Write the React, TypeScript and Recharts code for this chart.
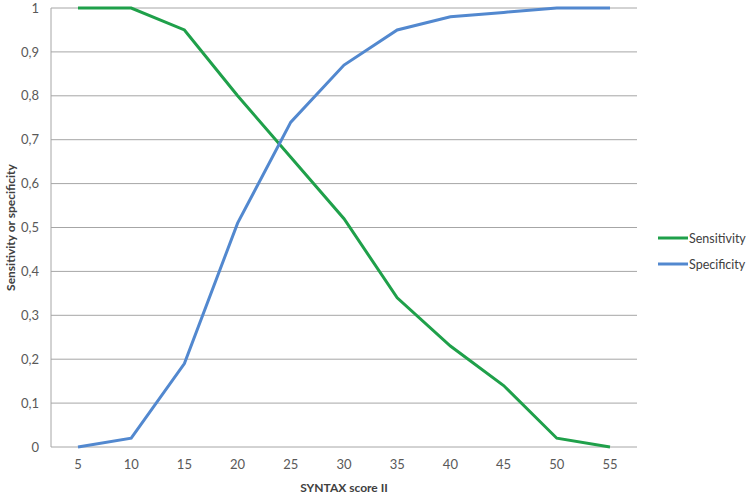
import { LineChart, Line, XAxis, YAxis, CartesianGrid, Legend } from "recharts";

const scores = [5, 10, 15, 20, 25, 30, 35, 40, 45, 50, 55];
const sensitivity = [1, 1, 0.95, 0.8, 0.66, 0.52, 0.34, 0.23, 0.14, 0.02, 0];
const specificity = [0, 0.02, 0.19, 0.51, 0.74, 0.87, 0.95, 0.98, 0.99, 1, 1];
const yTicks = [0, 0.1, 0.2, 0.3, 0.4, 0.5, 0.6, 0.7, 0.8, 0.9, 1];

const data = scores.map((s, i) => ({
  score: s,
  Sensitivity: sensitivity[i],
  Specificity: specificity[i],
}));

const FONT = "Lato, 'Open Sans', sans-serif";
const GREEN = "#1fa04a";
const BLUE = "#5288cf";

const fmt = (v: number) => String(Math.round(v * 10) / 10).replace(".", ",");

function YTitle(props: any) {
  const vb = props.viewBox || {};
  const cx = 10;
  const cy = vb.y + vb.height / 2;
  return (
    <text
      x={cx}
      y={cy}
      transform={`rotate(-90 ${cx} ${cy})`}
      textAnchor="middle"
      dominantBaseline="central"
      fontFamily={FONT}
      fontWeight="bold"
      fontSize={12}
      fill="#404040"
    >
      Sensitivity or specificity
    </text>
  );
}

function LegendBox(props: any) {
  const items = props.payload || [];
  return (
    <div style={{ fontFamily: FONT, fontSize: 12.5, color: "#404040" }}>
      {items.map((it: any) => (
        <div
          key={it.value}
          style={{ display: "flex", alignItems: "center", height: 26 }}
        >
          <svg width={30} height={6} style={{ marginRight: 1 }}>
            <line x1={0} y1={3} x2={30} y2={3} stroke={it.color} strokeWidth={3} />
          </svg>
          <span>{it.value}</span>
        </div>
      ))}
    </div>
  );
}

export default function App() {
  return (
    <div style={{ position: "absolute", left: 0, top: 0, background: "#fff" }}>
      <LineChart
        width={750}
        height={494}
        data={data}
        margin={{ top: 8, right: 113, bottom: 0, left: 0 }}
      >
        <CartesianGrid vertical={false} stroke="#a6a6a6" strokeWidth={1} />
        <XAxis
          dataKey="score"
          type="category"
          padding={{ left: 27, right: 27 }}
          axisLine={false}
          tickLine={false}
          tickSize={0}
          tickMargin={13}
          height={47}
          interval={0}
          tick={{ fontFamily: FONT, fontSize: 13, fill: "#595959" }}
          label={{
            value: "SYNTAX score II",
            position: "insideBottom",
            offset: 2,
            fontFamily: FONT,
            fontWeight: "bold",
            fontSize: 12,
            fill: "#404040",
          }}
        />
        <YAxis
          width={51}
          domain={[0, 1]}
          ticks={yTicks}
          interval={0}
          tickFormatter={fmt}
          axisLine={{ stroke: "#a6a6a6" }}
          tickLine={false}
          tickSize={0}
          tickMargin={12}
          tick={{ fontFamily: FONT, fontSize: 13, fill: "#595959" }}
          label={<YTitle />}
        />
        <Legend
          layout="vertical"
          align="center"
          verticalAlign="middle"
          wrapperStyle={{ left: 658, top: 225, width: 92 }}
          content={<LegendBox />}
        />
        <Line
          type="linear"
          dataKey="Sensitivity"
          stroke={GREEN}
          strokeWidth={3}
          dot={false}
          isAnimationActive={false}
        />
        <Line
          type="linear"
          dataKey="Specificity"
          stroke={BLUE}
          strokeWidth={3}
          dot={false}
          isAnimationActive={false}
        />
      </LineChart>
    </div>
  );
}
